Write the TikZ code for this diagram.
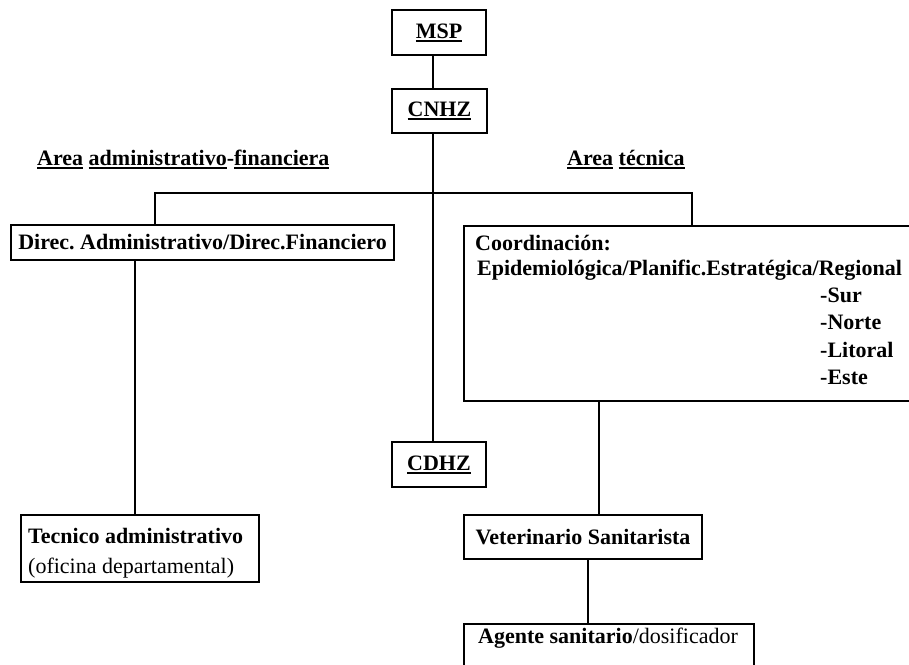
\documentclass[tikz,border=0pt]{standalone}
\usepackage{fontspec}
\setmainfont{Liberation Serif}
\frenchspacing
\newcommand\myul[1]{\setbox0\hbox{#1}\rlap{\rule[-3.5pt]{\wd0}{1.6pt}}\box0\relax}
\begin{document}
\begin{tikzpicture}[x=1pt,y=-1pt,
  every node/.style={font=\fontsize{22}{25}\selectfont\bfseries, inner sep=0pt},
  box/.style={draw, line width=1.8pt, rectangle},
  lbl/.style={anchor=base west},
  conn/.style={line width=1.8pt}]
\useasboundingbox (0,0) rectangle (909,664);
\clip (0,0) rectangle (909,664);
% boxes
\node[box, minimum width=94pt, minimum height=45pt] (msp) at (439,32.5) {\myul{MSP}};
\node[box, minimum width=95pt, minimum height=44pt] (cnhz) at (439.5,111) {\myul{CNHZ}};
\node[box, minimum width=94pt, minimum height=45pt] (cdhz) at (439,464.5) {\myul{CDHZ}};
\node[box, minimum width=383pt, minimum height=35pt] (direc) at (202.5,242.5) {Direc. Administrativo/Direc.Financiero};
\node[box, minimum width=448pt, minimum height=175pt] (coord) at (688,313.5) {};
\node[box, minimum width=238pt, minimum height=67pt] (tec) at (140,548.5) {};
\node[box, minimum width=238pt, minimum height=44pt] (vet) at (583,537) {Veterinario Sanitarista};
\node[box, minimum width=290pt, minimum height=56pt] (agente) at (609,652) {};
% texts inside boxes
\node[lbl] (c1) at (475,250) {Coordinación:};
\node[lbl] (c2) at (477,275) {Epidemiológica/Planific.Estratégica/Regional};
\node[lbl] (c3) at (820,302) {-Sur};
\node[lbl] (c4) at (820,329.5) {-Norte};
\node[lbl] (c5) at (820,357) {-Litoral};
\node[lbl] (c6) at (820,384.5) {-Este};
\node[lbl] (t1) at (28,543) {Tecnico administrativo};
\node[lbl] (t2) at (28,573) {\mdseries(oficina departamental)};
\node[lbl] (a1) at (478,643) {Agente sanitario\mdseries/dosificador};
% area labels
\node[lbl] (aadm) at (37,165) {\myul{Area} \myul{administrativo}-\myul{financiera}};
\node[lbl] (atec) at (567,165) {\myul{Area} \myul{técnica}};
% connector guides
\coordinate (xm) at (433,0);
\coordinate (bl) at (155,193);
\coordinate (br) at (692,193);
\coordinate (xd) at (135,0);
\coordinate (xv) at (599,0);
\coordinate (xa) at (588,0);
% connectors
\draw[conn] (msp.south -| xm) -- (cnhz.north -| xm);
\draw[conn] (cnhz.south -| xm) -- (cdhz.north -| xm);
\draw[conn] (direc.north -| bl) -- (bl) -- (br) -- (coord.north -| br);
\draw[conn] (direc.south -| xd) -- (tec.north -| xd);
\draw[conn] (coord.south -| xv) -- (vet.north -| xv);
\draw[conn] (vet.south -| xa) -- (agente.north -| xa);
\end{tikzpicture}
\end{document}
